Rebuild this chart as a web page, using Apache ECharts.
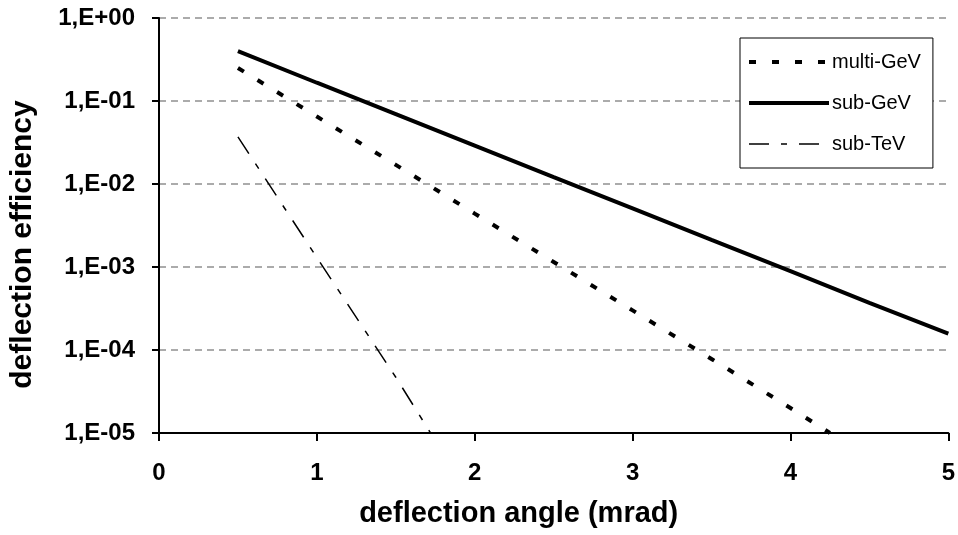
<!DOCTYPE html>
<html>
<head>
<meta charset="utf-8">
<script src="https://cdn.jsdelivr.net/npm/echarts@6/dist/echarts.min.js"></script>
<style>
html,body{margin:0;padding:0;background:#fff;}
#chart{width:958px;height:535px;}
</style>
</head>
<body>
<div id="chart"></div>
<script>
// Data
const seriesNames = ['multi-GeV', 'sub-GeV', 'sub-TeV'];
const multiGeVAngle = [0.5, 1.0, 1.5, 2.0, 2.5, 3.0, 3.5, 4.0, 4.25];
const multiGeVEff   = [0.25, 0.065, 0.017, 0.0044, 0.00115, 0.0003, 0.000078, 0.00002, 0.00001];
const subGeVAngle   = [0.5, 1.0, 1.5, 2.0, 2.5, 3.0, 3.5, 4.0, 4.5, 5.0];
const subGeVEff     = [0.40, 0.166, 0.0695, 0.029, 0.0121, 0.0051, 0.00212, 0.00089, 0.00037, 0.000158];
const subTeVAngle   = [0.5, 1.0, 1.5, 1.72];
const subTeVEff     = [0.037, 0.0013, 0.000047, 0.00001];
const xTicks = [0, 1, 2, 3, 4, 5];
const yTickLabels = ['1,E-05', '1,E-04', '1,E-03', '1,E-02', '1,E-01', '1,E+00'];

function pairs(xs, ys) { return xs.map((x, i) => [x, ys[i]]); }

const chart = echarts.init(document.getElementById('chart'));
const font = '"Liberation Sans", Arial, sans-serif';
const lineWidths = [4, 4, 1.5];
const lineTypes = [[7, 16], 'solid', [20, 12, 6, 12]];

chart.setOption({
  animation: false,
  backgroundColor: '#fff',
  grid: { left: 157, right: 9, top: 18, bottom: 102, containLabel: false },
  legend: {
    orient: 'vertical',
    left: 740,
    top: 38,
    padding: [14, 12, 14, 7],
    itemWidth: 80,
    itemHeight: 20,
    itemGap: 21,
    borderColor: '#000',
    borderWidth: 1,
    backgroundColor: '#fff',
    itemStyle: { color: 'rgba(0,0,0,0)', borderColor: 'rgba(0,0,0,0)', borderWidth: 0, opacity: 0 },
    textStyle: { fontFamily: font, fontSize: 20, color: '#000', padding: [0, 0, 0, -2] },
    data: seriesNames.map((n, i) => ({ name: n, lineStyle: { width: lineWidths[i], color: '#000', type: lineTypes[i] } }))
  },
  xAxis: {
    type: 'value',
    min: xTicks[0],
    max: xTicks[xTicks.length - 1],
    interval: 1,
    name: 'deflection angle (mrad)',
    nameLocation: 'middle',
    nameGap: 66,
    nameTextStyle: { fontFamily: font, fontSize: 29, fontWeight: 'bold', color: '#000', padding: [0, 70, 0, 0] },
    axisLine: { show: true, onZero: false, lineStyle: { color: '#000', width: 2 } },
    axisTick: { show: true, inside: false, length: 8, lineStyle: { color: '#000', width: 2 } },
    axisLabel: { fontFamily: font, fontSize: 24, fontWeight: 'bold', color: '#000', margin: 28 },
    splitLine: { show: false }
  },
  yAxis: {
    type: 'log',
    logBase: 10,
    min: 1e-5,
    max: 1,
    interval: 1,
    name: 'deflection efficiency',
    nameLocation: 'middle',
    nameGap: 121,
    nameRotate: 90,
    nameTextStyle: { fontFamily: font, fontSize: 30, fontWeight: 'bold', color: '#000', padding: [0, 38, 0, 0] },
    axisLine: { show: true, lineStyle: { color: '#000', width: 2 } },
    axisTick: { show: true, inside: false, length: 7, lineStyle: { color: '#000', width: 2 } },
    axisLabel: {
      fontFamily: font, fontSize: 24, fontWeight: 'bold', color: '#000', margin: 24,
      formatter: function (v) {
        const e = Math.round(Math.log10(v));
        return yTickLabels[e + 5];
      }
    },
    splitLine: { show: true, lineStyle: { color: '#ababab', width: 2, type: [7, 5] } }
  },
  series: [
    {
      name: seriesNames[0], type: 'line', symbol: 'none', smooth: false,
      data: pairs(multiGeVAngle, multiGeVEff),
      lineStyle: { color: '#000', width: lineWidths[0], type: lineTypes[0] },
      itemStyle: { color: '#000' }
    },
    {
      name: seriesNames[1], type: 'line', symbol: 'none', smooth: false,
      data: pairs(subGeVAngle, subGeVEff),
      lineStyle: { color: '#000', width: lineWidths[1], type: lineTypes[1] },
      itemStyle: { color: '#000' }
    },
    {
      name: seriesNames[2], type: 'line', symbol: 'none', smooth: false,
      data: pairs(subTeVAngle, subTeVEff),
      lineStyle: { color: '#000', width: lineWidths[2], type: lineTypes[2] },
      itemStyle: { color: '#000' }
    }
  ]
});
</script>
</body>
</html>
